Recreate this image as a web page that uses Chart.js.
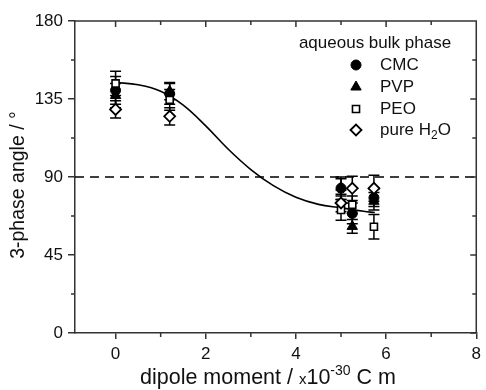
<!DOCTYPE html>
<html><head><meta charset="utf-8">
<script src="https://cdn.jsdelivr.net/npm/chart.js@4.4.0/dist/chart.umd.min.js"></script>
<style>html,body{margin:0;padding:0;background:#fff;}#wrap{width:486px;height:390px;}</style>
</head><body><div id="wrap"><canvas id="c" width="486" height="390"></canvas></div>
<script>
// ---- data ----
const dipole   = [0, 1.2, 5.0, 5.25, 5.73];
const cmc      = [140, 138, 83.5, 69, 78];
const cmcErr   = [8, 6, 6.5, 6, 5];
const pvp      = [137, 139.5, 84, 61.5, 76];
const pvpErr   = [7, 5, 5, 4, 5];
const peo      = [144, 134.5, 71, 74, 61.3];
const peoErr   = [7, 6, 6, 5, 7];
const water    = [129, 125, 75, 83.5, 83.5];
const waterErr = [5, 5, 5, 7, 7.5];
const fitX = [0, 0.5, 1, 1.5, 2, 2.5, 3, 3.5, 4, 4.5, 5, 5.5, 5.75];
const fitY = [144.5, 143.2, 139.5, 131.5, 119.5, 106, 94.3, 85, 78.3, 74.2, 72.2, 70.2, 69.5];
const refX = [-0.9, 8];
const refY = [90, 90];
const xTicks = [0, 2, 4, 6, 8];
const xMinor = [1, 3, 5, 7];
const yTicks = [0, 45, 90, 135, 180];
const yMinor = [22.5, 67.5, 112.5, 157.5];
const seriesNames = ['CMC', 'PVP', 'PEO', 'pure H2O'];

const FONT = 'Liberation Sans, Arial, sans-serif';
const AX = '#333';
function pts(xs, ys) { return xs.map((x, i) => ({x: x, y: ys[i]})); }

const markerStyles = [
  {pointStyle: 'circle', radius: 5, bg: '#000', border: '#000', bw: 1},
  {pointStyle: 'triangle', radius: 6, bg: '#000', border: '#000', bw: 1},
  {pointStyle: 'rect', radius: 5, bg: '#fff', border: '#000', bw: 1.6},
  {pointStyle: 'rectRot', radius: 5.5, bg: '#fff', border: '#000', bw: 1.8}
];
const vals = [cmc, pvp, peo, water];
const errs = [cmcErr, pvpErr, peoErr, waterErr];

const datasets = vals.map((v, i) => ({
  label: seriesNames[i],
  data: pts(dipole, v),
  errors: errs[i],
  showLine: false,
  pointStyle: markerStyles[i].pointStyle,
  pointRadius: markerStyles[i].radius,
  pointBackgroundColor: markerStyles[i].bg,
  pointBorderColor: markerStyles[i].border,
  pointBorderWidth: markerStyles[i].bw,
  order: 4 - i
}));
datasets.push({
  label: 'fit', data: pts(fitX, fitY), showLine: true, pointRadius: 0,
  borderColor: '#000', borderWidth: 1.6, tension: 0.4, fill: false, order: 10
});
datasets.push({
  label: 'ref', data: pts(refX, refY), showLine: true, pointRadius: 0,
  borderColor: '#000', borderWidth: 1.6, borderDash: [9, 6], fill: false, order: 11
});

const errorBars = {
  id: 'errorBars',
  beforeDatasetsDraw(chart) {
    const ctx = chart.ctx, xs = chart.scales.x, ys = chart.scales.y;
    ctx.save();
    ctx.strokeStyle = '#000';
    ctx.lineWidth = 1.5;
    chart.data.datasets.forEach(ds => {
      if (!ds.errors) return;
      ds.data.forEach((p, i) => {
        const e = ds.errors[i];
        const px = xs.getPixelForValue(p.x);
        const y1 = ys.getPixelForValue(p.y + e), y2 = ys.getPixelForValue(p.y - e);
        ctx.beginPath();
        ctx.moveTo(px, y1); ctx.lineTo(px, y2);
        ctx.moveTo(px - 5.5, y1); ctx.lineTo(px + 5.5, y1);
        ctx.moveTo(px - 5.5, y2); ctx.lineTo(px + 5.5, y2);
        ctx.stroke();
      });
    });
    ctx.restore();
  }
};

function drawMarker(ctx, st, x, y) {
  ctx.save();
  ctx.fillStyle = st.bg; ctx.strokeStyle = st.border; ctx.lineWidth = st.bw;
  ctx.beginPath();
  const r = st.radius;
  if (st.pointStyle === 'circle') ctx.arc(x, y, r, 0, Math.PI * 2);
  else if (st.pointStyle === 'triangle') {
    ctx.moveTo(x, y - r);
    ctx.lineTo(x + r * Math.sin(2 * Math.PI / 3), y + r / 2);
    ctx.lineTo(x - r * Math.sin(2 * Math.PI / 3), y + r / 2);
    ctx.closePath();
  } else if (st.pointStyle === 'rect') {
    const s = r * Math.SQRT1_2; ctx.rect(x - s, y - s, 2 * s, 2 * s);
  } else {
    ctx.moveTo(x - r, y); ctx.lineTo(x, y - r); ctx.lineTo(x + r, y); ctx.lineTo(x, y + r); ctx.closePath();
  }
  ctx.fill(); ctx.stroke();
  ctx.restore();
}

const frameAndText = {
  id: 'frameAndText',
  afterDraw(chart) {
    const ctx = chart.ctx, a = chart.chartArea, xs = chart.scales.x, ys = chart.scales.y;
    ctx.save();
    ctx.strokeStyle = AX; ctx.lineWidth = 1.5;
    ctx.beginPath();
    ctx.moveTo(a.left, a.top); ctx.lineTo(a.right, a.top); ctx.lineTo(a.right, a.bottom);
    xMinor.forEach(v => { const p = xs.getPixelForValue(v); ctx.moveTo(p, a.bottom); ctx.lineTo(p, a.bottom + 4); });
    yMinor.forEach(v => { const p = ys.getPixelForValue(v); ctx.moveTo(a.left, p); ctx.lineTo(a.left - 4, p); });
    xTicks.forEach(v => { const p = xs.getPixelForValue(v); ctx.moveTo(p, a.top); ctx.lineTo(p, a.top + 6); });
    xMinor.forEach(v => { const p = xs.getPixelForValue(v); ctx.moveTo(p, a.top); ctx.lineTo(p, a.top + 4); });
    yTicks.forEach(v => { const p = ys.getPixelForValue(v); ctx.moveTo(a.right, p); ctx.lineTo(a.right - 6, p); });
    yMinor.forEach(v => { const p = ys.getPixelForValue(v); ctx.moveTo(a.right, p); ctx.lineTo(a.right - 4, p); });
    ctx.stroke();

    ctx.fillStyle = '#111';
    ctx.textBaseline = 'alphabetic';
    const parts = [
      {t: 'dipole moment / ', s: 21.5, dy: 0},
      {t: 'x', s: 15, dy: 0},
      {t: '10', s: 21.5, dy: 0},
      {t: '-30', s: 14, dy: -9},
      {t: ' C m', s: 21.5, dy: 0}
    ];
    let w = 0;
    parts.forEach(p => { ctx.font = p.s + 'px ' + FONT; p.w = ctx.measureText(p.t).width; w += p.w; });
    let x = 268 - w / 2;
    const base = 384;
    ctx.textAlign = 'left';
    parts.forEach(p => { ctx.font = p.s + 'px ' + FONT; ctx.fillText(p.t, x, base + p.dy); x += p.w; });

    ctx.save();
    ctx.translate(24, 185);
    ctx.rotate(-Math.PI / 2);
    ctx.font = '19.5px ' + FONT;
    ctx.textAlign = 'center';
    ctx.fillText('3-phase angle / \u00B0', 0, 0);
    ctx.restore();

    ctx.font = '17px ' + FONT;
    ctx.textAlign = 'center';
    ctx.textBaseline = 'middle';
    ctx.fillText('aqueous bulk phase', 375, 43);
    const rows = [65, 87, 109, 130];
    ctx.textAlign = 'left';
    rows.forEach((ry, i) => {
      drawMarker(ctx, markerStyles[i], 356, ry);
      ctx.font = '17px ' + FONT;
      if (i < 3) {
        ctx.fillText(seriesNames[i], 380, ry);
      } else {
        ctx.fillText('pure H', 380, ry);
        let xx = 380 + ctx.measureText('pure H').width;
        ctx.font = '12px ' + FONT;
        ctx.fillText('2', xx, ry + 6);
        xx += ctx.measureText('2').width;
        ctx.font = '17px ' + FONT;
        ctx.fillText('O', xx, ry);
      }
    });
    ctx.restore();
  }
};

new Chart(document.getElementById('c'), {
  type: 'scatter',
  data: {datasets: datasets},
  plugins: [errorBars, frameAndText],
  options: {
    responsive: false, animation: false, devicePixelRatio: 1,
    layout: {autoPadding: false, padding: {top: 21, right: 3, left: 0, bottom: 0}},
    plugins: {legend: {display: false}, tooltip: {enabled: false}},
    scales: {
      x: {
        type: 'linear', min: -0.9, max: 8,
        afterBuildTicks: s => { s.ticks = xTicks.map(v => ({value: v})); },
        afterFit: s => { s.height = 57; },
        grid: {display: true, drawOnChartArea: false, drawTicks: true, tickLength: 6, color: AX, lineWidth: 1.5},
        border: {display: true, color: AX, width: 1.5},
        ticks: {font: {family: FONT, size: 17}, color: '#111', padding: 5, maxRotation: 0, autoSkip: false}
      },
      y: {
        type: 'linear', min: 0, max: 180,
        afterBuildTicks: s => { s.ticks = yTicks.map(v => ({value: v})); },
        afterFit: s => { s.width = 75; },
        grid: {display: true, drawOnChartArea: false, drawTicks: true, tickLength: 7, color: AX, lineWidth: 1.5},
        border: {display: true, color: AX, width: 1.5},
        ticks: {font: {family: FONT, size: 17}, color: '#111', padding: 5, autoSkip: false}
      }
    }
  }
});
</script></body></html>
